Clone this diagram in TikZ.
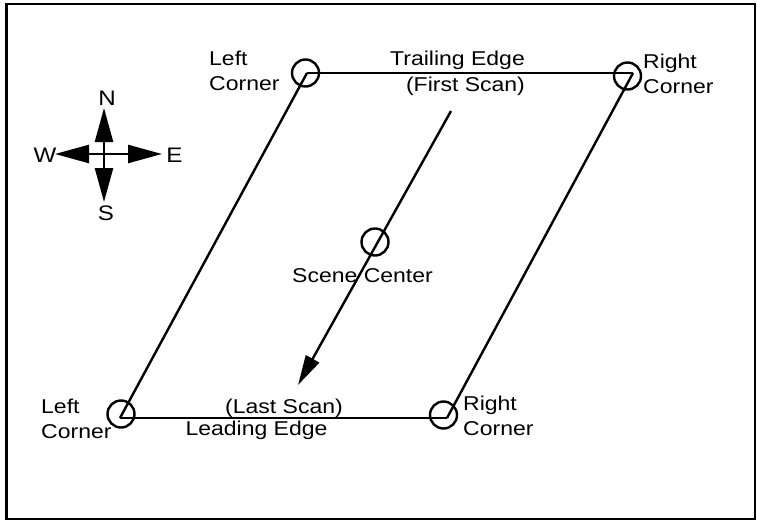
\documentclass[tikz,border=0pt]{standalone}
\usepackage{fontspec}
\setmainfont{Liberation Sans}[FakeStretch=1.15]
\usetikzlibrary{arrows.meta}
\begin{document}
\begin{tikzpicture}[x=1pt,y=-1pt,
  lbl/.style={inner sep=0pt, font=\fontsize{20}{25}\selectfont},
  clbl/.style={inner sep=0pt, font=\fontsize{21}{25}\selectfont, anchor=base},
  edge/.style={line width=2.4pt},
  cline/.style={line width=2.4pt},
  corner/.style={circle, draw, line width=2.4pt, minimum size=27pt, inner sep=0pt},
  ctip/.style={-{Triangle[length=34pt,width=18pt]}}
]
\useasboundingbox (0,0) rectangle (757,522);
\draw[line width=2.8pt] (6.5,4) rectangle (755,519);

% parallelogram
\coordinate (TL) at (307,73);
\coordinate (TR) at (633,73);
\coordinate (BL) at (120,418);
\coordinate (BR) at (447,418);
\draw[edge] (TL) -- (TR);
\draw[edge] (TR) -- (BR);
\draw[edge] (BR) -- (BL);
\draw[edge] (BL) -- (TL);

\node[corner] (cTL) at (305.5,73) {};
\node[corner] (cTR) at (627.5,76) {};
\node[corner] (cBL) at (121,414) {};
\node[corner] (cBR) at (443.5,415) {};
\node[corner] (cSC) at (375,242) {};

% scan direction
\coordinate (fs) at (451,111);
\coordinate (ls) at (298,385);
\draw[edge, -{Triangle[length=30pt,width=15pt]}] (fs) -- (ls);

% compass
\coordinate (cc) at (104,154);
\coordinate (cn) at (104,108);
\coordinate (cs) at (104,202);
\coordinate (cw) at (55,154);
\coordinate (ce) at (162,154);
\draw[cline, ctip] (cc) -- (cn);
\draw[cline, ctip] (cc) -- (cs);
\draw[cline, ctip] (cc) -- (cw);
\draw[cline, ctip] (cc) -- (ce);
\node[clbl] (lN) at (107,105) {N};
\node[clbl] (lW) at (45,162) {W};
\node[clbl] (lE) at (174.5,162) {E};
\node[clbl] (lS) at (106,220) {S};

% labels (base anchor = baseline of last line)
\node[lbl, align=left, anchor=base west] (tlL) at (209,90) {Left\\Corner};
\node[lbl, anchor=base] (te) at (457.5,65.5) {Trailing Edge};
\node[lbl, anchor=base] (fsl) at (465.5,91) {(First Scan)};
\node[lbl, align=left, anchor=base west] (trL) at (643,93) {Right\\Corner};
\node[lbl, anchor=base] (sc) at (362.5,282) {Scene Center};
\node[lbl, align=left, anchor=base west] (blL) at (41,438) {Left\\Corner};
\node[lbl, anchor=base] (lsl) at (284,413) {(Last Scan)};
\node[lbl, anchor=base] (le) at (256.5,435) {Leading Edge};
\node[lbl, align=left, anchor=base west] (brL) at (463,435) {Right\\Corner};
\end{tikzpicture}
\end{document}
